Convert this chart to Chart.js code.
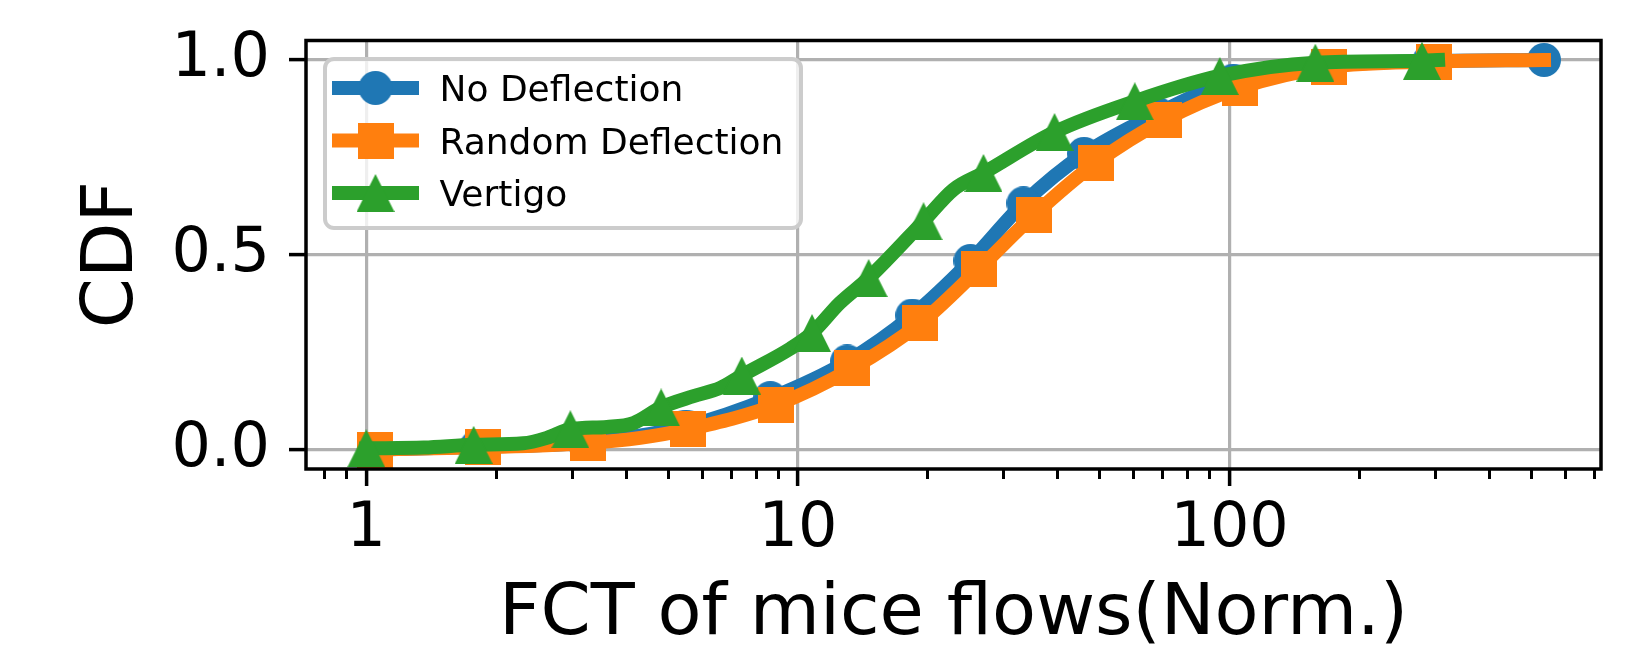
<!DOCTYPE html>
<html>
<head>
<meta charset="utf-8">
<title>FCT of mice flows CDF</title>
<script src="https://cdn.jsdelivr.net/npm/chart.js@4.4.1/dist/chart.umd.min.js"></script>
<style>
    html, body { margin: 0; padding: 0; background: #fff; }
    #wrap { width: 1652px; height: 648px; }
</style>
</head>
<body>
<div id="wrap"><canvas id="cdfChart" width="1652" height="648"></canvas></div>
<script>
// === Data ===
const seriesNames = ['No Deflection', 'Random Deflection', 'Vertigo'];

const noDeflectionX = [1.045, 1.8, 3.2, 5.5, 8.63, 13.0, 18.4, 25.1, 33.3, 46, 68, 102, 169, 290, 535];
const noDeflectionY = [0.0, 0.007, 0.018, 0.059, 0.132, 0.226, 0.344, 0.484, 0.632, 0.759, 0.862, 0.947, 0.985, 0.997, 1.0];
const noDeflectionMarks = [0, 1, 2, 3, 4, 5, 6, 7, 8, 9, 10, 11, 12, 13, 14];

const randomX = [1.047, 1.862, 3.27, 4.31, 5.57, 8.91, 13.34, 19.2, 26.2, 35.3, 48.9, 70.4, 105.7, 170, 297, 535];
const randomY = [0.0, 0.006, 0.017, 0.03, 0.052, 0.115, 0.208, 0.324, 0.463, 0.603, 0.735, 0.845, 0.929, 0.982, 0.996, 1.0];
const randomMarks = [0, 1, 2, 4, 5, 6, 7, 8, 9, 10, 11, 12, 13, 14];

const vertigoX = [1.0, 1.36, 1.773, 2.31, 2.62, 2.97, 3.61, 4.16, 4.82, 5.73, 6.61, 7.41, 9.6, 10.78, 12.5, 14.58, 19.54, 22.9, 26.9, 39.3, 60.3, 94.9, 158, 279, 304];
const vertigoY = [0.003, 0.005, 0.012, 0.016, 0.03, 0.052, 0.058, 0.068, 0.108, 0.137, 0.158, 0.19, 0.259, 0.299, 0.376, 0.44, 0.586, 0.667, 0.71, 0.815, 0.894, 0.959, 0.993, 0.998, 1.0];
const vertigoMarks = [0, 2, 5, 8, 11, 13, 15, 16, 18, 19, 20, 21, 22, 23];

const xMajorTicks = [1, 10, 100];
const xMinorTicks = [0.8, 0.9, 2, 3, 4, 5, 6, 7, 8, 9, 20, 30, 40, 50, 60, 70, 80, 90, 200, 300, 400, 500, 600, 700];
const yTicks = [0, 0.5, 1.0];

const xTitle = 'FCT of mice flows(Norm.)';
const yTitle = 'CDF';

// === Styling ===
const BLUE = '#1f77b4';
const ORANGE = '#ff7f0e';
const GREEN = '#2ca02c';
const LINE_W = 14;

Chart.defaults.font.family = "'DejaVu Sans', sans-serif";
Chart.defaults.color = '#000';

function makeMarker(shape, color) {
    const size = shape === 'circle' ? 34 : (shape === 'square' ? 36 : 38);
    const c = document.createElement('canvas');
    c.width = size;
    c.height = size;
    const g = c.getContext('2d');
    g.fillStyle = color;
    g.beginPath();
    if (shape === 'circle') {
        g.arc(size / 2, size / 2, size / 2, 0, Math.PI * 2);
    } else if (shape === 'square') {
        g.rect(0, 0, size, size);
    } else {
        g.moveTo(size / 2, 0);
        g.lineTo(size, size);
        g.lineTo(0, size);
        g.closePath();
    }
    g.fill();
    return c;
}

const markers = [makeMarker('circle', BLUE), makeMarker('square', ORANGE), makeMarker('triangle', GREEN)];
const colors = [BLUE, ORANGE, GREEN];

function makeDataset(label, xs, ys, marks, color, marker, order) {
    return {
        label: label,
        data: xs.map((x, i) => ({ x: x, y: ys[i] })),
        borderColor: color,
        backgroundColor: color,
        borderWidth: LINE_W,
        borderCapStyle: 'square',
        borderJoinStyle: 'round',
        cubicInterpolationMode: 'monotone',
        pointStyle: marker,
        pointRadius: ctx => marks.includes(ctx.dataIndex) ? 18 : 0,
        pointHoverRadius: ctx => marks.includes(ctx.dataIndex) ? 18 : 0,
        pointBorderWidth: 0,
        order: order
    };
}

function noPad(scale) {
    scale.paddingLeft = 0;
    scale.paddingRight = 0;
    scale.paddingTop = 0;
    scale.paddingBottom = 0;
}

// === Frame (all four spines) and matplotlib-like legend ===
const framePlugin = {
    id: 'frame',
    afterDraw(chart) {
        const { ctx, chartArea } = chart;
        ctx.save();
        ctx.strokeStyle = '#000';
        ctx.lineWidth = 3.5;
        ctx.strokeRect(chartArea.left, chartArea.top, chartArea.right - chartArea.left, chartArea.bottom - chartArea.top);

        // legend box
        ctx.fillStyle = 'rgba(255,255,255,0.8)';
        ctx.strokeStyle = '#cccccc';
        ctx.lineWidth = 4;
        ctx.beginPath();
        ctx.roundRect(325, 59, 476, 169, 9);
        ctx.fill();
        ctx.stroke();

        ctx.font = "36px 'DejaVu Sans', sans-serif";
        ctx.textBaseline = 'alphabetic';
        ctx.textAlign = 'left';
        seriesNames.forEach((name, i) => {
            const rowY = 88 + i * 52.5;
            ctx.strokeStyle = colors[i];
            ctx.lineWidth = LINE_W;
            ctx.lineCap = 'butt';
            ctx.beginPath();
            ctx.moveTo(332, rowY);
            ctx.lineTo(419, rowY);
            ctx.stroke();
            const m = markers[i];
            ctx.drawImage(m, 375.5 - m.width / 2, rowY - m.height / 2);
            ctx.fillStyle = '#000';
            ctx.fillText(name, 439.5, rowY + 13.3);
        });
        ctx.restore();
    }
};

// === Chart Setup ===
const ctx = document.getElementById('cdfChart').getContext('2d');
const cdfChart = new Chart(ctx, {
    type: 'line',
    data: {
        datasets: [
            makeDataset(seriesNames[0], noDeflectionX, noDeflectionY, noDeflectionMarks, BLUE, markers[0], 3),
            makeDataset(seriesNames[1], randomX, randomY, randomMarks, ORANGE, markers[1], 2),
            makeDataset(seriesNames[2], vertigoX, vertigoY, vertigoMarks, GREEN, markers[2], 1)
        ]
    },
    options: {
        responsive: false,
        animation: false,
        events: [],
        layout: { padding: { left: 0, right: 51, top: 40.5, bottom: 0 } },
        plugins: {
            legend: { display: false },
            tooltip: { enabled: false }
        },
        scales: {
            x: {
                type: 'logarithmic',
                position: 'bottom',
                min: 0.725,
                max: 725,
                bounds: 'data',
                afterBuildTicks: s => { s.ticks = xMajorTicks.map(v => ({ value: v })); },
                afterFit: s => { s.height = 179; noPad(s); },
                ticks: {
                    autoSkip: false,
                    maxRotation: 0,
                    minRotation: 0,
                    padding: 7,
                    font: { size: 62 },
                    callback: v => String(v)
                },
                grid: { color: '#b0b0b0', lineWidth: 3.2, tickColor: '#000', tickWidth: 3.5, tickLength: 17 },
                border: { display: false },
                title: { display: true, text: xTitle, font: { size: 72, lineHeight: 0.9 }, padding: 0 }
            },
            xMinor: {
                type: 'logarithmic',
                axis: 'x',
                position: { y: -0.05 },
                min: 0.725,
                max: 725,
                bounds: 'data',
                afterBuildTicks: s => { s.ticks = xMinorTicks.map(v => ({ value: v })); },
                afterFit: s => { noPad(s); },
                ticks: { display: false, autoSkip: false },
                grid: { drawOnChartArea: false, color: '#000', tickColor: '#000', tickWidth: 3, tickLength: 10 },
                border: { display: false }
            },
            y: {
                type: 'linear',
                position: 'left',
                min: -0.05,
                max: 1.05,
                bounds: 'data',
                afterBuildTicks: s => { s.ticks = yTicks.map(v => ({ value: v })); },
                afterFit: s => { s.width = 306; noPad(s); },
                ticks: {
                    padding: 19,
                    font: { size: 62 },
                    callback: v => v.toFixed(1)
                },
                grid: { color: '#b0b0b0', lineWidth: 3.2, tickColor: '#000', tickWidth: 3.5, tickLength: 17 },
                border: { display: false },
                title: { display: true, text: yTitle, font: { size: 72, lineHeight: 0.9 }, padding: { top: 81, bottom: 0 } }
            }
        }
    },
    plugins: [framePlugin]
});
</script>
</body>
</html>
